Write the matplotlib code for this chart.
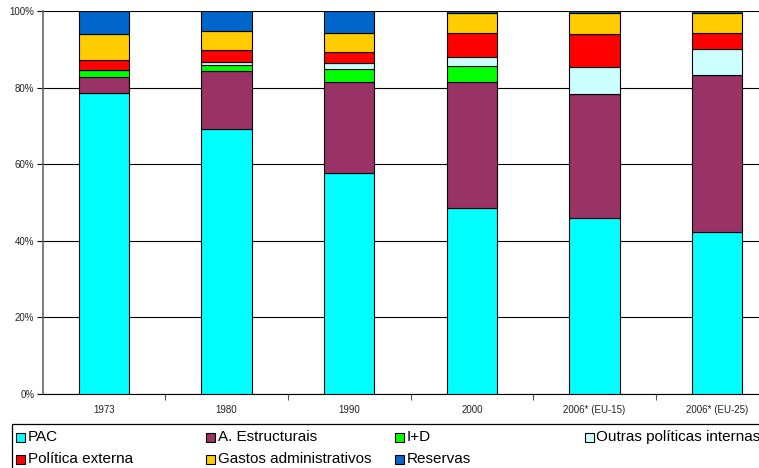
import numpy as np
import matplotlib
matplotlib.use('Agg')
import matplotlib.pyplot as plt
from matplotlib import patches

plt.rcParams['font.family'] = ['Liberation Sans', 'DejaVu Sans']

# Share of EU budget by heading (%)
years = ['1973', '1980', '1990', '2000', '2006* (EU-15)', '2006* (EU-25)']
pac = [78.5, 69.2, 57.7, 48.5, 46.0, 42.4]
estruturais = [4.2, 15.1, 23.8, 33.0, 32.3, 40.8]
i_d = [1.8, 1.5, 3.3, 4.2, 0.0, 0.0]
outras = [0.0, 0.9, 1.5, 2.3, 7.0, 6.9]
externa = [2.7, 3.0, 2.9, 6.2, 8.7, 4.2]
gastos = [6.8, 5.0, 5.1, 5.4, 5.6, 5.1]
reservas = [6.0, 5.3, 5.7, 0.4, 0.4, 0.6]

names = ['PAC', 'A. Estructurais', 'I+D', 'Outras políticas internas',
         'Política externa', 'Gastos administrativos', 'Reservas']
series = [pac, estruturais, i_d, outras, externa, gastos, reservas]
colors = ['#00FFFF', '#993366', '#00FF00', '#CCFFFF',
          '#FF0000', '#FFCC00', '#0066CC']

W, H, dpi = 759, 468, 100.0
fig = plt.figure(figsize=(W/dpi, H/dpi), dpi=dpi)
ax = fig.add_axes([42.6/W, 74/H, 736/W, 383/H])

x = np.arange(len(years))
bottom = np.zeros(len(years))
for vals, c in zip(series, colors):
    vals = np.array(vals)
    ax.bar(x, vals, 0.41, bottom=bottom, color=c, edgecolor='black',
           linewidth=0.8, zorder=3)
    bottom += vals

ax.set_xlim(-0.5, len(years) - 0.5)
ax.set_ylim(0, 100)
ax.set_yticks(np.arange(0, 101, 20))
ax.set_yticklabels(['%d%%' % v for v in range(0, 101, 20)], fontsize=7, color='#222222')
ax.yaxis.grid(True, color='black', linewidth=0.8, zorder=0)
ax.tick_params(axis='y', length=4, width=0.8, pad=2)

# category labels centered, tick marks on boundaries
ax.set_xticks(np.arange(0.5, len(years) - 0.5, 1))
ax.set_xticklabels([])
ax.set_xticks(x, minor=True)
ax.set_xticklabels(years, minor=True, fontsize=7, color='#222222')
ax.tick_params(axis='x', which='major', length=4, width=0.8, color='#555555')
ax.tick_params(axis='x', which='minor', length=0, pad=8)

for s in ['top', 'right']:
    ax.spines[s].set_visible(False)
ax.spines['left'].set_color('#666666')
ax.spines['left'].set_linewidth(1.2)
ax.spines['bottom'].set_color('black')
ax.spines['bottom'].set_linewidth(0.8)

# legend in Excel style: framed box, four equal columns
fig.patches.append(patches.Rectangle((12/W, -5/H), 800/W, 49/H,
                                     transform=fig.transFigure, fill=False,
                                     edgecolor='black', linewidth=0.9))
for i, (name, c) in enumerate(zip(names, colors)):
    col, row = i % 4, i // 4
    lx = 16 + col * 189.5
    ly = H - (437 + row * 22)
    fig.patches.append(patches.Rectangle((lx/W, (ly - 4.5)/H), 9/W, 9/H,
                                         transform=fig.transFigure,
                                         facecolor=c, edgecolor='black',
                                         linewidth=0.8))
    fig.text((lx + 12)/W, ly/H, name, fontsize=11, va='center', ha='left')

fig.savefig('out.png', dpi=dpi)
plt.close(fig)
